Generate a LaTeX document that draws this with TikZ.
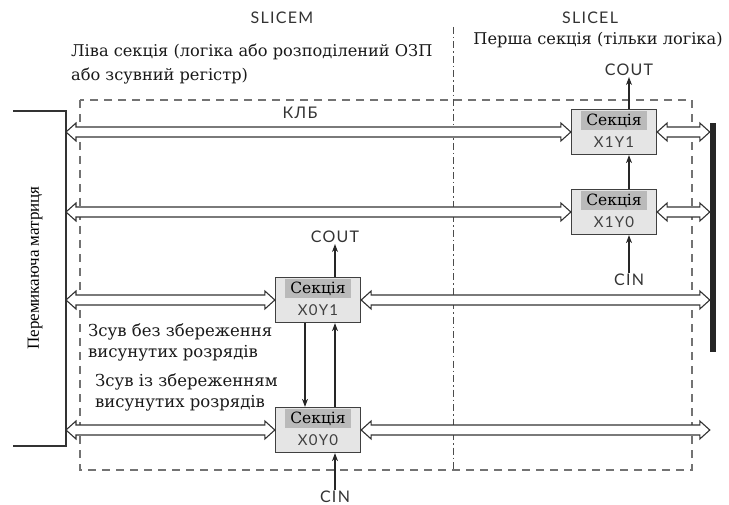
\documentclass[tikz,border=0pt]{standalone}
\usepackage{fontspec}
\setmainfont{DejaVu Serif}
\newfontfamily\sanslab[LetterSpace=8]{Lato}
\newfontfamily\timesfont{Liberation Serif}
\usetikzlibrary{arrows.meta,positioning,calc}

\tikzset{
  bus/.style={draw=black!80,line width=1.1pt,fill=white,line join=miter},
  sig/.style={draw=black!85,line width=1.1pt,-{Stealth[length=8pt,width=6pt]}},
  sect/.style={draw=black!75,line width=1.3pt,fill=black!10,minimum width=85pt,minimum height=45pt,inner sep=0pt},
  secthead/.style={fill=black!27,minimum width=66pt,minimum height=19pt,inner sep=0pt,font=\fontsize{15.5}{16}\selectfont},
  sectname/.style={font=\sanslab\fontsize{15}{15}\selectfont,text=black!75,inner sep=0pt},
  lbl/.style={font=\sanslab\fontsize{16}{16}\selectfont,text=black!80,inner sep=1pt},
  note/.style={font=\fontsize{16.2}{24}\selectfont,align=left,inner sep=0pt,text=black!90},
  region/.style={draw=black!55,line width=1.4pt,dash pattern=on 8pt off 6pt},
}
% hollow two-headed bus between two points
\newcommand\busline[2]{%
  \draw[bus] let \p1=(#1), \p2=(#2) in
    (\x1,\y1) -- (\x1+10pt,\y1+9pt) -- (\x1+10pt,\y1+5pt) -- (\x2-10pt,\y2+5pt)
    -- (\x2-10pt,\y2+9pt) -- (\x2,\y2) -- (\x2-10pt,\y2-9pt) -- (\x2-10pt,\y2-5pt)
    -- (\x1+10pt,\y1-5pt) -- (\x1+10pt,\y1-9pt) -- cycle;}

\begin{document}
\begin{tikzpicture}[x=1pt,y=-1pt]
\useasboundingbox (0,0) rectangle (729,505);
% CLB outline and the SLICEM / SLICEL border
\draw[region] (80,100) rectangle (692,470);
\draw[black!70,line width=1pt,dash pattern=on 7pt off 3pt on 1.5pt off 3pt] (453,27) -- (453,470);

% switch matrix and right bar
\draw[black!80,line width=1.2pt] (13,111) -- (66,111) -- (66,446) -- (13,446);
\coordinate (mtx) at (66,278);
\node[font=\timesfont\fontsize{17}{17}\selectfont,rotate=90] (mtxlabel) at (35,268) {Перемикаюча матриця};
\node[fill=black!85,minimum width=6pt,minimum height=229pt,inner sep=0pt] (bar) at (713,237.5) {};

% sections
\node[sect] (x1y1) at (614,132) {};
\node[sect] (x1y0) at (614,212) {};
\node[sect] (x0y1) at (318,300) {};
\node[sect] (x0y0) at (318,430) {};
\foreach \s/\t in {x1y1/X1Y1,x1y0/X1Y0,x0y1/X0Y1,x0y0/X0Y0}{
  \node[secthead,below=2pt of \s.north] (\s h) {Секція};
  \node[sectname,below=6pt of \s h] (\s n) {\t};
}

% buses
\foreach \s in {x1y1,x1y0,x0y1,x0y0}{
  \busline{mtx |- \s}{\s.west}
  \busline{\s.east}{bar.west |- \s}
}

% labels
\node[lbl] (slicem) at (282,18) {SLICEM};
\node[lbl] (slicel) at (590,18) {SLICEL};
\node[lbl] (klb) at (300,113) {КЛБ};
\node[lbl] (cout1) at (629,70) {COUT};
\node[lbl] (cin1) at (629,280) {CIN};
\node[lbl] (cout0) at (335,237) {COUT};
\node[lbl] (cin0) at (335,497) {CIN};
\node[note,anchor=west] (lnote) at (71,64) {Ліва секція (логіка або розподілений ОЗП\\або зсувний регістр)};
\node[note] (rnote) at (598,40) {Перша секція (тільки логіка)};
\node[note,anchor=west,font=\fontsize{16.5}{21}\selectfont] (shift1) at (88,342.5) {Зсув без збереження\\висунутих розрядів};
\node[note,anchor=west,font=\fontsize{16.5}{21}\selectfont] (shift2) at (95,392) {Зсув із збереженням\\висунутих розрядів};

% carry chains
\draw[sig] ([xshift=15pt]x1y1.north) -- (cout1.south);
\draw[sig] ([xshift=15pt]x1y0.north) -- ([xshift=15pt]x1y1.south);
\draw[sig] (cin1.north) -- ([xshift=15pt]x1y0.south);
\draw[sig] ([xshift=17pt]x0y1.north) -- (cout0.south);
\draw[sig] ([xshift=17pt]x0y0.north) -- ([xshift=17pt]x0y1.south);
\draw[sig] ([xshift=-13pt]x0y1.south) -- ([xshift=-13pt]x0y0.north);
\draw[sig] (cin0.north) -- ([xshift=17pt]x0y0.south);
\end{tikzpicture}
\end{document}
